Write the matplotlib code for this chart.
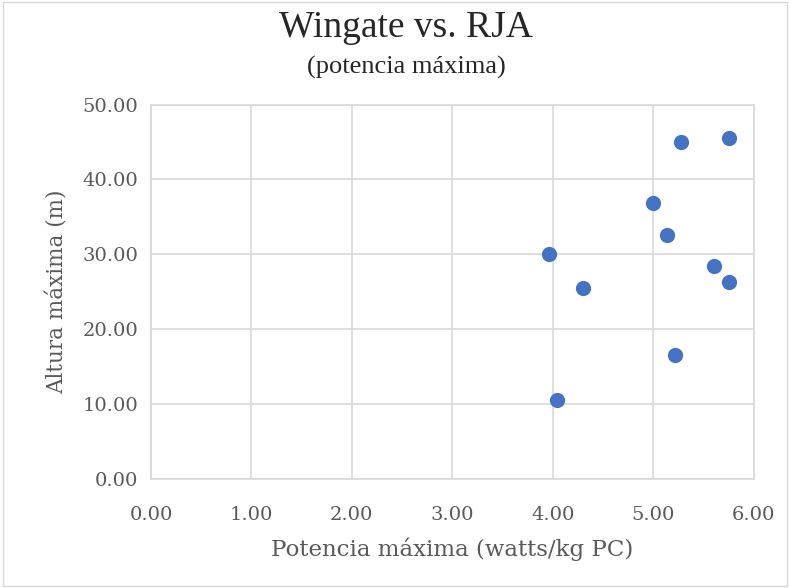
import matplotlib
matplotlib.use("Agg")
import matplotlib.pyplot as plt
from matplotlib.patches import Rectangle

potencia = [5.28, 5.76, 5.00, 5.14, 3.96, 5.61, 5.76, 4.30, 5.22, 4.04]
altura = [45.0, 45.5, 36.9, 32.6, 30.1, 28.4, 26.3, 25.5, 16.6, 10.6]
x_ticks = [0, 1, 2, 3, 4, 5, 6]
y_ticks = [0, 10, 20, 30, 40, 50]

title = "Wingate vs. RJA"
subtitle = "(potencia máxima)"
xlabel = "Potencia máxima (watts/kg PC)"
ylabel = "Altura máxima (m)"

grid_c = "#D9D9D9"
text_c = "#595959"

fig = plt.figure(figsize=(7.9, 5.88), dpi=100)
ax = fig.add_axes([151/790, 1-479.3/588, (753.5-151)/790, (479.3-104.5)/588])

ax.scatter(potencia, altura, s=120, color="#4472C4", zorder=3, linewidths=0)
ax.set_xlim(0, 6)
ax.set_ylim(0, 50)
ax.set_xticks(x_ticks)
ax.set_yticks(y_ticks)
ax.set_xticklabels([f"{v:.2f}" for v in x_ticks])
ax.set_yticklabels([f"{v:.2f}" for v in y_ticks])
ax.grid(True, color=grid_c, linewidth=1.2, zorder=0)
ax.set_axisbelow(True)
for s in ax.spines.values():
    s.set_color(grid_c)
    s.set_linewidth(1.2)
ax.tick_params(length=0, colors=text_c, labelsize=14)
ax.tick_params(axis="x", pad=19)
ax.tick_params(axis="y", pad=9)
for lab in ax.get_xticklabels() + ax.get_yticklabels():
    lab.set_fontfamily("DejaVu Serif")

ax.set_xlabel(xlabel, fontsize=16.5, color=text_c, family="DejaVu Serif", labelpad=10)
ax.set_ylabel(ylabel, fontsize=15.5, color=text_c, family="DejaVu Serif", labelpad=10)

fig.text(406/790, 1-28/588, title, ha="center", va="center", fontsize=27,
         family="Liberation Serif", color="#262626")
fig.text(406/790, 1-67/588, subtitle, ha="center", va="center", fontsize=19,
         family="Liberation Serif", color="#262626")

fig.patches.append(Rectangle((0.004, 0.004), 0.992, 0.992, transform=fig.transFigure,
                             fill=False, edgecolor=grid_c, linewidth=1))

fig.savefig("out.png", dpi=100)
